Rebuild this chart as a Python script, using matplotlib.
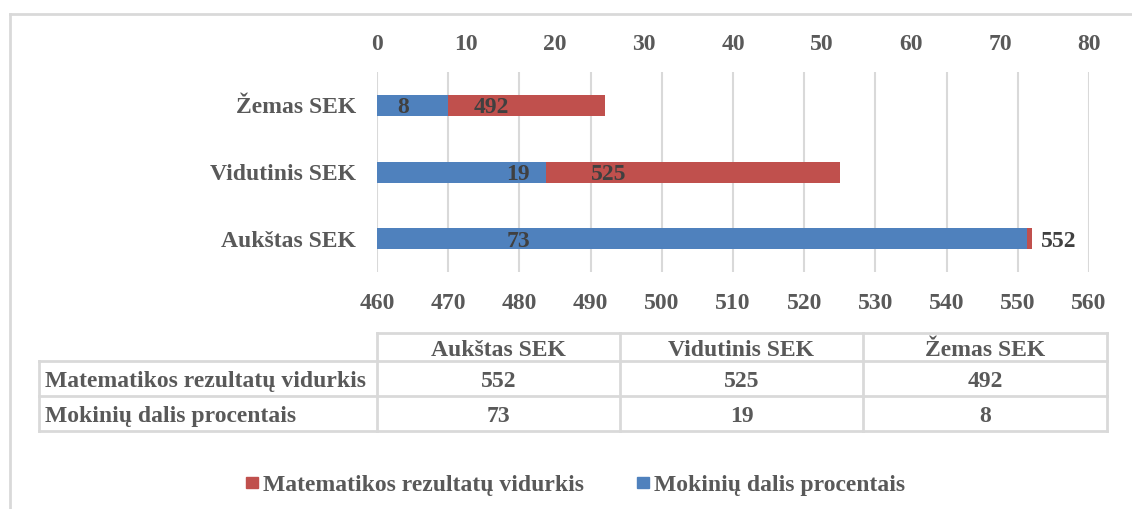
import matplotlib.pyplot as plt
from matplotlib.patches import Rectangle

plt.rcParams['font.family'] = ['Liberation Serif', 'DejaVu Serif']
plt.rcParams['font.weight'] = 'bold'

# data (bottom-up order as in the table)
categories = ['Aukštas SEK', 'Vidutinis SEK', 'Žemas SEK']
math_avg = [552, 525, 492]
share_pct = [73, 19, 8]
series_names = ['Matematikos rezultatų vidurkis', 'Mokinių dalis procentais']

RED = '#c0504d'
BLUE = '#4f81bd'
GREY = '#595959'
DARK = '#404040'
GRID = '#d9d9d9'
FS = 17
VA = 'center_baseline'

W, H = 1132, 509
fig = plt.figure(figsize=(W / 100, H / 100), dpi=100)

# overlay in pixel coords for border, table, legend
ov = fig.add_axes([0, 0, 1, 1])
ov.set_xlim(0, W)
ov.set_ylim(H, 0)
ov.axis('off')

# plot area: x 377..1089, y 72..272
ax = fig.add_axes([377 / W, 1 - 272 / H, (1089 - 377) / W, 200 / H])
ax2 = ax.twiny()

y = list(range(len(categories)))
bh = 0.315

ax.barh(y, [v - 460 for v in math_avg], left=460, height=bh, color=RED, zorder=2)
ax.set_xlim(460, 560)
ax.set_ylim(-0.5, 2.5)
ax.set_xticks(range(460, 561, 10))
ax.grid(axis='x', color=GRID, linewidth=1.5, zorder=0)
ax.set_axisbelow(True)
ax.set_yticks(y)
ax.set_yticklabels(categories)

ax2.barh(y, share_pct, height=bh, color=BLUE, zorder=3)
ax2.set_xlim(0, 80)
ax2.set_xticks(range(0, 81, 10))

for a in (ax, ax2):
    for s in a.spines.values():
        s.set_visible(False)
    a.tick_params(length=0, labelsize=FS, labelcolor=GREY)
ax.tick_params(axis='x', pad=15)
ax.tick_params(axis='y', pad=15)
ax2.tick_params(axis='x', pad=12)
ax2.patch.set_visible(False)
for t in ax.get_yticklabels():
    t.set_verticalalignment(VA)

# data labels
blue_label_x = [15.85, 15.85, 2.9]
for yi, v, lx in zip(y, share_pct, blue_label_x):
    ax2.text(lx, yi, str(v), ha='center', va=VA, fontsize=FS, color=DARK, zorder=5)
for i, (yi, v) in enumerate(zip(y, math_avg)):
    if i == 0:
        ax2.text((1041 - 377) / 8.9, yi, str(v), ha='left', va=VA, fontsize=FS, color=DARK, zorder=5)
    else:
        ax.text((460 + v) / 2, yi, str(v), ha='center', va=VA, fontsize=FS, color=DARK, zorder=5)

# chart border
ov.plot([10, W], [14, 14], color=GRID, lw=2)
ov.plot([10, 10], [14, H], color=GRID, lw=2)

# data table
col_x = [39, 377, 620, 863, 1107]
row_y = [333, 360.5, 396, 430.5]
tl = dict(color=GRID, lw=2)
ov.plot([377, 1107], [row_y[0], row_y[0]], **tl)
for ry in row_y[1:]:
    ov.plot([39, 1107], [ry, ry], **tl)
ov.plot([39, 39], [row_y[1], row_y[3]], **tl)
for cx in col_x[1:]:
    ov.plot([cx, cx], [row_y[0], row_y[3]], **tl)

for j, c in enumerate(categories):
    cx = (col_x[j + 1] + col_x[j + 2]) / 2
    ov.text(cx, (row_y[0] + row_y[1]) / 2 + 1, c, ha='center', va=VA, fontsize=FS, color=GREY)
rows = [math_avg, share_pct]
for r, (name, vals) in enumerate(zip(series_names, rows)):
    cy = (row_y[r + 1] + row_y[r + 2]) / 2 + 1
    ov.text(45, cy, name, ha='left', va=VA, fontsize=FS, color=GREY)
    for j, v in enumerate(vals):
        cx = (col_x[j + 1] + col_x[j + 2]) / 2
        ov.text(cx, cy, str(v), ha='center', va=VA, fontsize=FS, color=GREY)

# legend
for sx, col, name in [(246, RED, series_names[0]), (637, BLUE, series_names[1])]:
    ov.add_patch(Rectangle((sx, 476.5), 11.5, 11.5, color=col))
    ov.text(sx + 17, 483, name, ha='left', va=VA, fontsize=FS, color=GREY)

fig.savefig('out.png', dpi=100)
